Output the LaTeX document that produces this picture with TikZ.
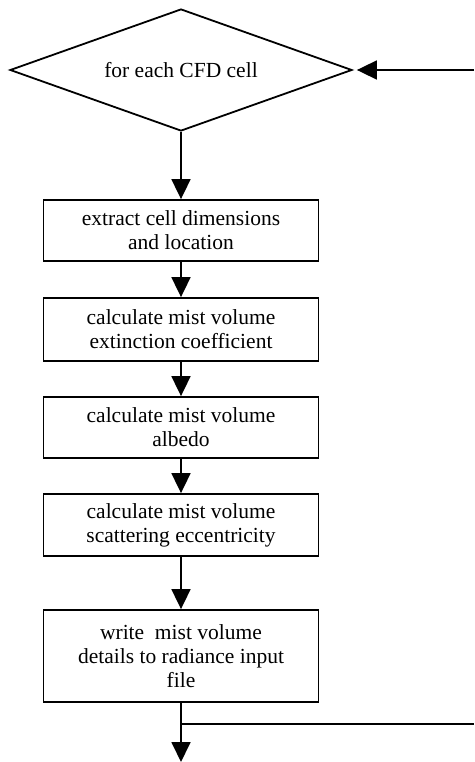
\documentclass[tikz,border=0pt]{standalone}
\usepackage{fontspec}
\setmainfont{Liberation Serif}
\usepackage{tikz}
\usetikzlibrary{
    shapes.geometric,
    arrows.meta,
    positioning
}

\begin{document}
\begin{tikzpicture}[
        x=1pt, y=-1pt,
        stepbox/.style={draw, line width=1.8pt, minimum width=275pt, inner sep=2pt, font=\fontsize{21.5}{24}\selectfont, align=center},
        loop/.style={draw, diamond, aspect=2.8, line width=1.8pt, minimum width=342pt, minimum height=122pt, inner sep=0pt, font=\fontsize{21.5}{24}\selectfont},
        arrow/.style={-{Triangle[length=20pt, width=19pt]}, line width=1.8pt}
    ]
        \useasboundingbox (0,0) rectangle (474,762);

        \node[loop] (cell) at (181,70) {for each CFD cell};
        \node[stepbox, minimum height=61pt] (dims) at (181,230.5) {extract cell dimensions\\and location};
        \node[stepbox, minimum height=63pt] (ext) at (181,329.5) {calculate mist volume\\extinction coefficient};
        \node[stepbox, minimum height=61pt] (alb) at (181,427.5) {calculate mist volume\\albedo};
        \node[stepbox, minimum height=62pt] (ecc) at (181,525) {calculate mist volume\\scattering eccentricity};
        \node[stepbox, minimum height=92pt] (rad) at (181,656) {write\ \ mist volume\\details to radiance input\\file};

        \coordinate (split) at (181,724);
        \coordinate (exit) at (181,762);
        \coordinate (back) at (474,724);
        \coordinate (ret) at (474,70);

        \draw[arrow] (cell) -- (dims);
        \draw[arrow] (dims) -- (ext);
        \draw[arrow] (ext) -- (alb);
        \draw[arrow] (alb) -- (ecc);
        \draw[arrow] (ecc) -- (rad);
        \draw[arrow] (rad.south) -- (exit);
        \draw[line width=1.8pt] (split) -- (back);
        \draw[arrow, shorten >=4pt] (ret) -- (cell.east);
    \end{tikzpicture}
\end{document}
